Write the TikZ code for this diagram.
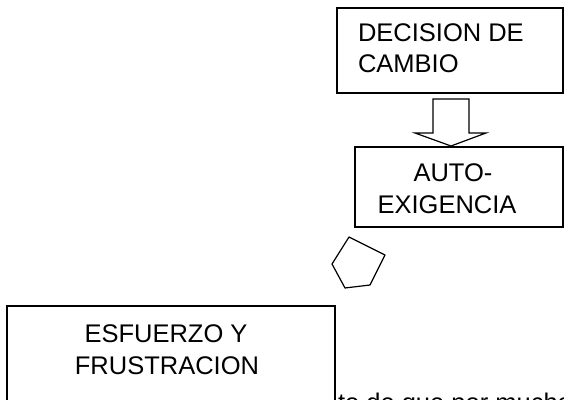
\documentclass[tikz,border=0pt]{standalone}
\usepackage{fontspec}
\setmainfont{Liberation Sans}
\usepackage{tikz}

\tikzset{
  caja/.style={draw=drawColor,line width=1.2pt,fill=white,inner sep=0pt,outer sep=0pt},
  texto/.style={text=drawColor,inner sep=0pt,outer sep=0pt,font=\fontsize{25.5}{32}\selectfont}
}

\begin{document}
\begin{tikzpicture}[x=1pt,y=1pt]
\definecolor{fillColor}{RGB}{255,255,255}
\definecolor{drawColor}{RGB}{0,0,0}
\path[use as bounding box,fill=fillColor] (0,0) rectangle (564,399);
\begin{scope}
\path[clip] (  0.00,  0.00) rectangle (564,399);

% texto de fondo, cortado por el borde
\node[texto,anchor=base west] (fondo) at (338,-12) {to de que por mucho};

\node[caja,minimum width=226,minimum height=85] (decision) at (450,348.5) {};
\node[texto,anchor=base west] (decisionA) at (358,357) {DECISION DE};
\node[texto,anchor=base west] (decisionB) at (358,326) {CAMBIO};

% flecha de bloque
\path[draw=drawColor,line width=1.2pt,line join=miter,fill=fillColor]
  (433,300) -- (469,300) -- (469,266) -- (486,266) -- (451,253)
  -- (415,266) -- (433,266) -- cycle;

\node[caja,minimum width=208,minimum height=80] (auto) at (459,212) {};
\node[texto,anchor=base] (autoA) at (453,217) {AUTO-};
\node[texto,anchor=base] (autoB) at (447,185) {EXIGENCIA};

% pentagono
\path[draw=drawColor,line width=1.2pt,line join=round] (349,162) -- (385,144) -- (370,114) -- (345,111) -- (332,135) -- cycle;

\node[caja,minimum width=328,minimum height=110,anchor=north west] (esfuerzo) at (7,93) {};
\node[texto,anchor=base] (esfuerzoA) at (166,57) {ESFUERZO Y};
\node[texto,anchor=base] (esfuerzoB) at (167,25) {FRUSTRACION};
\end{scope}
\end{tikzpicture}
\end{document}
